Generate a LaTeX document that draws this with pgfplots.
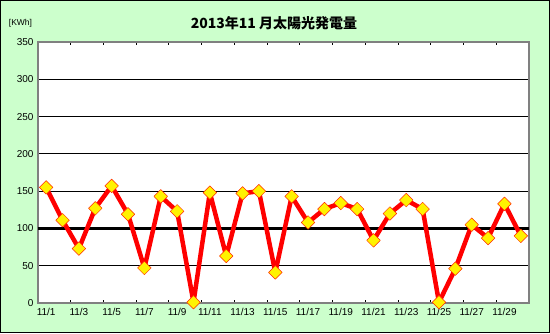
\documentclass[border=0pt]{standalone}
\usepackage{pgfplots}
\pgfplotsset{compat=1.18}
\usepackage{fontspec}
\setmainfont{Liberation Sans}
\newfontfamily\cjk{Noto Sans CJK JP}
\definecolor{bg}{HTML}{CCFFCC}
\definecolor{axgray}{HTML}{808080}
\pgfplotstableread{
x y
1 155
2 111
3 73
4 127
5 157
6 119
7 47
8 143
9 123
10 1
11 148
12 63
13 147
14 150
15 41
16 143
17 108
18 126
19 134
20 126
21 84
22 120
23 138
24 126
25 1
26 46
27 105
28 87
29 133
30 90
}\datatable
\begin{document}
\begin{tikzpicture}
\useasboundingbox (0pt,0pt) rectangle (550pt,333pt);
\fill[bg] (0pt,0pt) rectangle (550pt,333pt);
\draw[black, line width=1pt] (0.5pt,0.5pt) rectangle (549.5pt,332.5pt);
\node[font=\cjk\bfseries\fontsize{14}{16}\selectfont] at (274pt,310pt) {2013年11 月太陽光発電量};
\node[font=\fontsize{8.5}{10}\selectfont] at (20.5pt,309.5pt) {[KWh]};
\begin{axis}[
  at={(38pt,30pt)}, anchor=south west,
  scale only axis, width=491pt, height=261pt,
  xmin=0.5, xmax=30.5, ymin=0, ymax=350,
  axis background/.style={fill=white},
  axis line style={draw=axgray, line width=1.8pt},
  xtick={1,3,...,29},
  xticklabels={11/1,11/3,11/5,11/7,11/9,11/11,11/13,11/15,11/17,11/19,11/21,11/23,11/25,11/27,11/29},
  major x tick style={draw=none},
  minor xtick={2.5,4.5,...,28.5},
  minor x tick style={black, line width=1pt},
  minor tick length=3pt,
  ytick={0,50,...,350},
  major y tick style={draw=none},
  ymajorgrids,
  grid style={black, line width=1pt},
  tick label style={font=\fontsize{10}{12}\selectfont},
  /pgf/number format/assume math mode=true,
  xticklabel style={yshift=-2pt},
  yticklabel style={xshift=-1pt},
  clip=false,
]
\addplot[black, line width=2.4pt] coordinates {(0.5,100) (30.5,100)};
\addplot[red, line width=4.5pt, line join=round, mark=square*, mark size=4.8pt,
  mark options={rotate=45, fill=yellow, draw=red!70!orange, line width=0.5pt, solid}]
  table[x=x,y=y] {\datatable};
\end{axis}
\end{tikzpicture}
\end{document}
